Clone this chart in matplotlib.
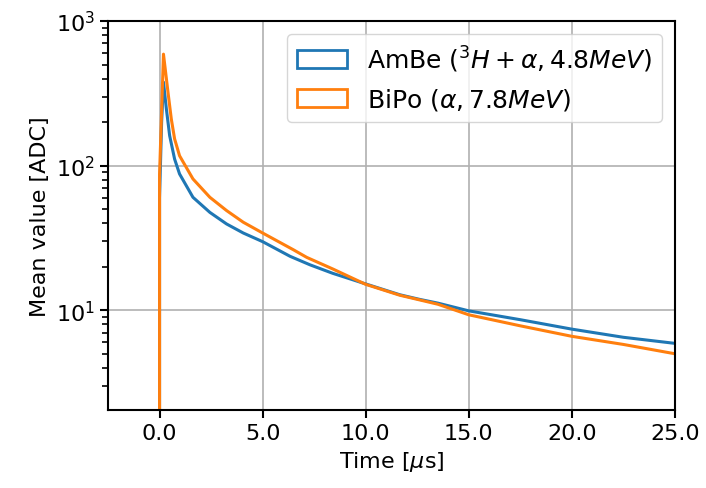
import numpy as np
import matplotlib
matplotlib.use("Agg")
import matplotlib.pyplot as plt
from matplotlib.patches import Patch
from matplotlib.ticker import FormatStrFormatter

# values (time in us, mean value in ADC)
t_ambe = [0.0, 0.0, 0.1, 0.19, 0.33, 0.49, 0.73, 0.97, 1.62, 2.44, 3.25, 4.06, 5.0,
          6.33, 7.3, 8.4, 10.0, 11.65, 12.6, 13.5, 15.0, 17.5, 20.0, 22.5, 25.0]
v_ambe = [1.0, 60.0, 200.0, 378.0, 247.0, 161.0, 111.0, 87.6, 60.4, 47.5, 39.5, 34.2, 29.8,
          23.6, 20.6, 18.0, 15.2, 12.8, 11.9, 11.2, 9.9, 8.6, 7.4, 6.5, 5.9]

t_bipo = [0.0, 0.0, 0.1, 0.19, 0.41, 0.57, 0.73, 0.97, 1.62, 2.44, 3.25, 4.06, 5.0, 6.49,
          7.14, 8.4, 10.0, 11.65, 12.6, 13.5, 15.0, 17.5, 20.0, 22.5, 25.0]
v_bipo = [1.0, 87.0, 240.0, 590.0, 321.0, 210.0, 153.0, 117.0, 80.9, 60.4, 48.9, 40.6, 34.2,
          26.2, 23.2, 19.3, 15.1, 12.7, 11.8, 11.0, 9.3, 7.8, 6.6, 5.8, 5.0]

labels = [r"AmBe ($^{3}H+\alpha, 4.8MeV$)", r"BiPo ($\alpha, 7.8MeV$)"]
colors = ["tab:blue", "tab:orange"]

plt.rcParams["font.size"] = 16

fig = plt.figure(figsize=(7.06, 4.89), dpi=100)
ax = fig.add_axes([0.153, 0.160, 0.803, 0.795])

ax.plot(t_ambe, v_ambe, color=colors[0], lw=2.2)
ax.plot(t_bipo, v_bipo, color=colors[1], lw=2.2)

ax.set_yscale("log")
ax.set_xlim(-2.5, 25)
ax.set_ylim(2.05, 1000)
ax.set_xticks([0, 5, 10, 15, 20, 25])
ax.xaxis.set_major_formatter(FormatStrFormatter("%.1f"))
ax.grid(True, which="major", color="#b0b0b0", lw=1.2)
ax.set_xlabel(r"Time [$\mu$s]")
ax.set_ylabel("Mean value [ADC]")
for s in ax.spines.values():
    s.set_linewidth(1.5)
ax.tick_params(which="major", width=1.5, length=6)
ax.tick_params(which="minor", width=1.2, length=4)

handles = [Patch(facecolor="none", edgecolor=c, lw=2) for c in colors]
ax.legend(handles, labels, loc="upper right", fontsize=18)

fig.savefig("out.png", dpi=100)
